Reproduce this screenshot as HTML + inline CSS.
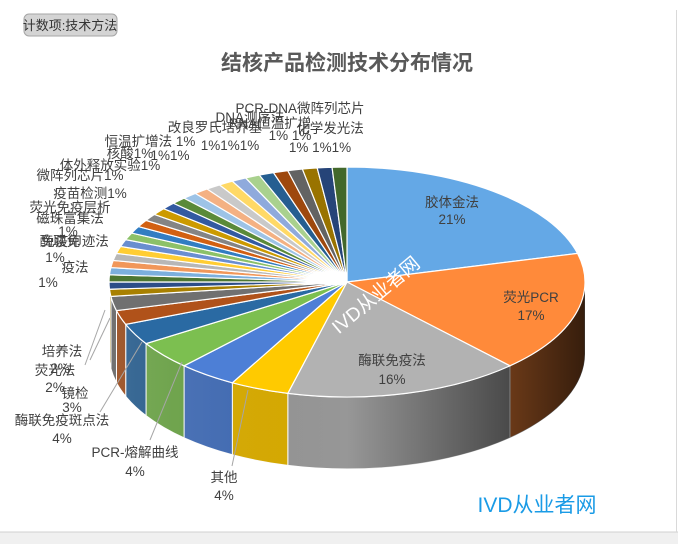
<!DOCTYPE html>
<html><head><meta charset="utf-8"><style>
html,body{margin:0;padding:0;background:#fff;}
body{width:678px;height:544px;position:relative;overflow:hidden;font-family:"Liberation Sans","Noto Sans CJK SC",sans-serif;}
svg{position:absolute;left:0;top:0;}
</style></head><body>
<svg id="s" width="678" height="544" xmlns="http://www.w3.org/2000/svg" font-family="Liberation Sans, Noto Sans CJK SC, sans-serif">
<defs>
<linearGradient id="shade" x1="0" x2="1" y1="0" y2="0">
<stop offset="0" stop-color="#fff" stop-opacity="0.12"/>
<stop offset="0.5" stop-color="#000" stop-opacity="0"/>
<stop offset="1" stop-color="#000" stop-opacity="0.75"/>
</linearGradient>
</defs>
<rect x="0" y="532" width="678" height="12" fill="#f0f0f0"/>
<line x1="0" y1="532" x2="678" y2="532" stroke="#d0d0d0"/>
<line x1="676.5" y1="10" x2="676.5" y2="532" stroke="#d9d9d9"/>
<rect x="24" y="14" width="93" height="22" rx="5" fill="#d4d4d4" stroke="#a6a6a6"/>
<text x="70" y="30" font-size="13" fill="#333" text-anchor="middle">计数项:技术方法</text>
<text x="347" y="70" font-size="21" font-weight="bold" fill="#595959" text-anchor="middle">结核产品检测技术分布情况</text>
<g id="pie"></g>
<g font-size="13.5" fill="#404040" text-anchor="middle">
<text x="452" y="207">胶体金法</text><text x="452" y="224">21%</text>
<text x="531" y="302">荧光PCR</text><text x="531" y="320">17%</text>
<text x="392" y="365">酶联免疫法</text><text x="392" y="384">16%</text>
<text x="224" y="482">其他</text><text x="224" y="500">4%</text>
<text x="135" y="457">PCR-熔解曲线</text><text x="135" y="476">4%</text>
<text x="62" y="425">酶联免疫斑点法</text><text x="62" y="443">4%</text>
<text x="75" y="398">镜检</text><text x="72" y="412">3%</text>
<text x="55" y="375">荧光法</text><text x="55" y="392">2%</text>
<text x="62" y="356">培养法</text><text x="60" y="373">2%</text>
<text x="75" y="272">疫法</text><text x="48" y="287">1%</text>
<text x="75" y="246">免疫印迹法</text><text x="60" y="246">酶联免</text><text x="55" y="262">1%</text>
<text x="70" y="212">荧光免疫层析</text><text x="70" y="223">磁珠富集法</text><text x="68" y="236">1%</text>
<text x="80" y="180">微阵列芯片1%</text><text x="90" y="198">疫苗检测1%</text>
<text x="110" y="170">体外释放实验1%</text><text x="130" y="158">核酸1%</text>
<text x="150" y="146">恒温扩增法 1%</text><text x="170" y="160">1%1%</text>
<text x="215" y="132">改良罗氏培养基</text><text x="230" y="150">1%1%1%</text>
<text x="250" y="122">DNA测序法</text><text x="290" y="140">1% 1%</text>
<text x="300" y="113">PCR-DNA微阵列芯片</text><text x="330" y="133">化学发光法</text>
<text x="320" y="152">1% 1%1%</text><text x="270" y="128">RNA恒温扩增</text>
</g>
<g stroke="#a6a6a6" fill="none">
<polyline points="232,466 248,390"/><polyline points="150,440 182,362"/><polyline points="100,412 142,342"/>
<polyline points="90,360 110,318"/><polyline points="85,365 105,310"/>
</g>
<text x="380" y="300" font-size="19" fill="#fff" text-anchor="middle" transform="rotate(-40 380 300)">IVD从业者网</text>
<text x="537" y="512" font-size="21" fill="#1a9be6" text-anchor="middle">IVD从业者网</text>
</svg>
<script>
(function(){
var cx=347,cy=282,rx=238,ry=115,D=72;
var big=[[21,'#64A8E6'],[17,'#FF8A3A'],[16,'#B2B2B2'],[4,'#FFCA00'],[4,'#4D7FD6'],[4,'#7CBF50'],[3,'#2A6AA3'],[2,'#B0521A'],[2,'#707070']];
var smallC=['#A88000','#2C4D88','#4C7632','#7CAFDD','#F1975A','#B7B7B7','#FFCD33','#698ED0','#8CC168','#327DC2','#D26012','#848484','#CC9A00','#335AA1','#5A8A39','#9DC3E6','#F4B183','#C9C9C9','#FFD966','#8FAADC','#A9D18E','#255E91','#9E480E','#636363','#997300','#264478','#43682B'];
var sl=big.slice();smallC.forEach(function(c){sl.push([1,c]);});
var tot=0;sl.forEach(function(s){tot+=s[0];});
function P(t,dy){return [cx+rx*Math.cos(t),cy+ry*Math.sin(t)+(dy||0)];}
function dk(hex,f){var n=parseInt(hex.slice(1),16);var r=(n>>16)&255,g=(n>>8)&255,b=n&255;return 'rgb('+Math.round(r*f)+','+Math.round(g*f)+','+Math.round(b*f)+')';}
var g=document.getElementById('pie');var out='';var a=-Math.PI/2;var tops='';
sl.forEach(function(s){
 var a2=a+s[0]/tot*2*Math.PI;
 var s1=Math.max(a,0),s2=Math.min(a2,Math.PI);
 if(s2>s1){
  var p1=P(s1),p2=P(s2),q2=P(s2,D),q1=P(s1,D);
  out+='<path d="M'+p1+' A'+rx+','+ry+' 0 0 1 '+p2+' L'+q2+' A'+rx+','+ry+' 0 0 0 '+q1+' Z" fill="'+dk(s[1],0.85)+'" stroke="#fff" stroke-width="1"/>';
 }
 var t1=P(a),t2=P(a2),lg=(a2-a)>Math.PI?1:0;
 tops+='<path d="M'+cx+','+cy+' L'+t1+' A'+rx+','+ry+' 0 '+lg+' 1 '+t2+' Z" fill="'+s[1]+'" stroke="#fff" stroke-width="1.2"/>';
 a=a2;
});
var l=P(Math.PI),r=P(0);
out+='<path d="M'+r+' A'+rx+','+ry+' 0 0 1 '+l+' L'+P(Math.PI,D)+' A'+rx+','+ry+' 0 0 0 '+P(0,D)+' Z" fill="url(#shade)"/>';
g.innerHTML=out+tops;
})();
</script>
</body></html>
